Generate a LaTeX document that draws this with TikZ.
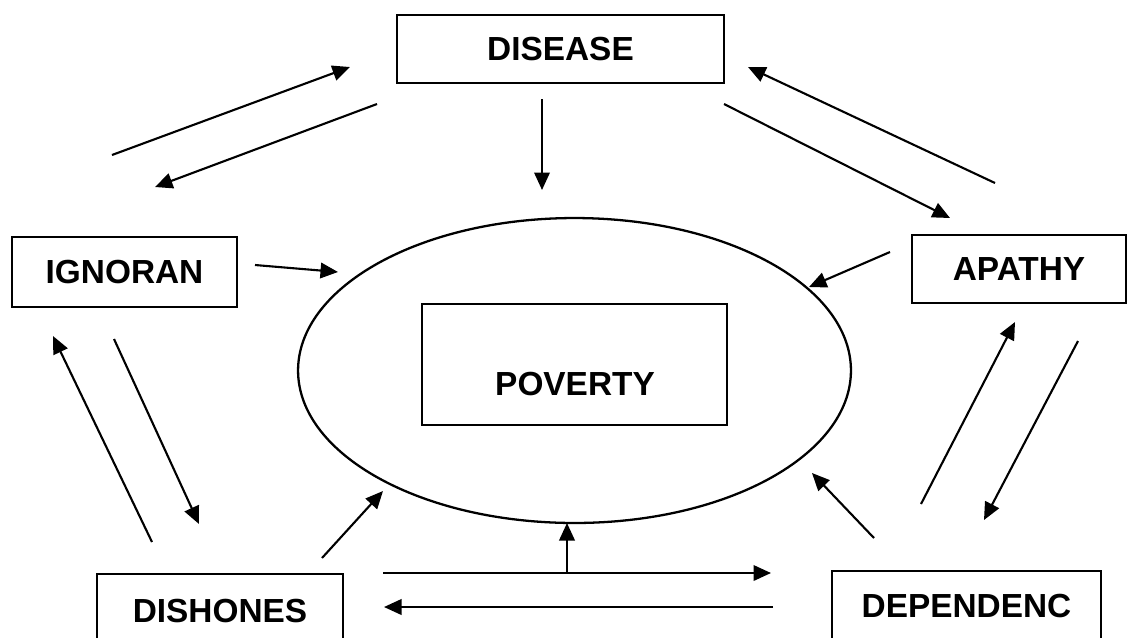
\documentclass[tikz,border=0pt]{standalone}
\usepackage{fontspec}
\setmainfont{Liberation Sans}
\usepackage{tikz}
\usetikzlibrary{shapes,arrows.meta}
\tikzstyle{block} = [rectangle, draw, line width=1.3pt, align=center, font=\fontsize{19}{22}\selectfont\bfseries]
\tikzstyle{label} = [font=\fontsize{19}{22}\selectfont\bfseries]
\tikzstyle{arrow} = [draw, -{Triangle[length=3.5mm, width=3.1mm]}, line width=1.2pt]

\begin{document}
\begin{tikzpicture}[x=0.02cm, y=-0.02cm]
\useasboundingbox (0,0) rectangle (1129,637);
\clip (0,0) rectangle (1129,637);

%% centre
\node[ellipse, draw, line width=1.3pt, minimum width=11.06cm, minimum height=6.1cm] at (574.5,370.5) (ring) {};
\node[rectangle, draw, line width=1.3pt, minimum width=6.1cm, minimum height=2.42cm] at (574.5,364.5) (povbox) {};
\node[label] at (575,384) (poverty) {POVERTY};

%% the five causes
\node[block, minimum width=6.54cm, minimum height=1.36cm] at (560.5,49) (disease) {DISEASE};
\node[block, minimum width=4.5cm, minimum height=1.4cm] at (124.5,272) (ignoran) {IGNORAN};
\node[block, minimum width=4.28cm, minimum height=1.36cm] at (1019,269) (apathy) {APATHY};
\node[block, minimum width=4.92cm, minimum height=1.48cm] at (220,611) (dishones) {DISHONES};
\node[block, minimum width=5.38cm, minimum height=1.4cm] at (966.5,606) (dependenc) {DEPENDENC};

%% arrow ends
\coordinate (ig-dis-s) at (112,155);   \coordinate (ig-dis-e) at (350,67);
\coordinate (dis-ig-s) at (377,104);   \coordinate (dis-ig-e) at (155,187);
\coordinate (dis-pov-s) at (542,99);   \coordinate (dis-pov-e) at (542,190);
\coordinate (ap-dis-s) at (995,183);   \coordinate (ap-dis-e) at (748,67);
\coordinate (dis-ap-s) at (724,104);   \coordinate (dis-ap-e) at (950,218);
\coordinate (ig-pov-s) at (255,265);   \coordinate (ig-pov-e) at (338,272);
\coordinate (ap-pov-s) at (890,252);   \coordinate (ap-pov-e) at (809,287);
\coordinate (dh-ig-s) at (152,542);    \coordinate (dh-ig-e) at (53,336);
\coordinate (ig-dh-s) at (114,339);    \coordinate (ig-dh-e) at (199,524);
\coordinate (dh-pov-s) at (322,558);   \coordinate (dh-pov-e) at (383,491);
\coordinate (dh-dep-s) at (383,573);   \coordinate (dh-dep-e) at (771,573);
\coordinate (dep-dh-s) at (773,607);   \coordinate (dep-dh-e) at (384,607);
\coordinate (mid-pov-s) at (567,573);  \coordinate (mid-pov-e) at (567,523);
\coordinate (dep-pov-s) at (874,538);  \coordinate (dep-pov-e) at (812,473);
\coordinate (dep-ap-s) at (921,504);   \coordinate (dep-ap-e) at (1015,322);
\coordinate (ap-dep-s) at (1078,341);  \coordinate (ap-dep-e) at (984,520);

%% top
\path[arrow] (ig-dis-s) -- (ig-dis-e);
\path[arrow] (dis-ig-s) -- (dis-ig-e);
\path[arrow] (dis-pov-s) -- (dis-pov-e);
\path[arrow] (ap-dis-s) -- (ap-dis-e);
\path[arrow] (dis-ap-s) -- (dis-ap-e);

%% into the ring
\path[arrow] (ig-pov-s) -- (ig-pov-e);
\path[arrow] (ap-pov-s) -- (ap-pov-e);
\path[arrow] (dh-pov-s) -- (dh-pov-e);
\path[arrow] (dep-pov-s) -- (dep-pov-e);
\path[arrow] (mid-pov-s) -- (mid-pov-e);

%% sides and bottom
\path[arrow] (dh-ig-s) -- (dh-ig-e);
\path[arrow] (ig-dh-s) -- (ig-dh-e);
\path[arrow] (dep-ap-s) -- (dep-ap-e);
\path[arrow] (ap-dep-s) -- (ap-dep-e);
\path[arrow] (dh-dep-s) -- (dh-dep-e);
\path[arrow] (dep-dh-s) -- (dep-dh-e);

\end{tikzpicture}
\end{document}
